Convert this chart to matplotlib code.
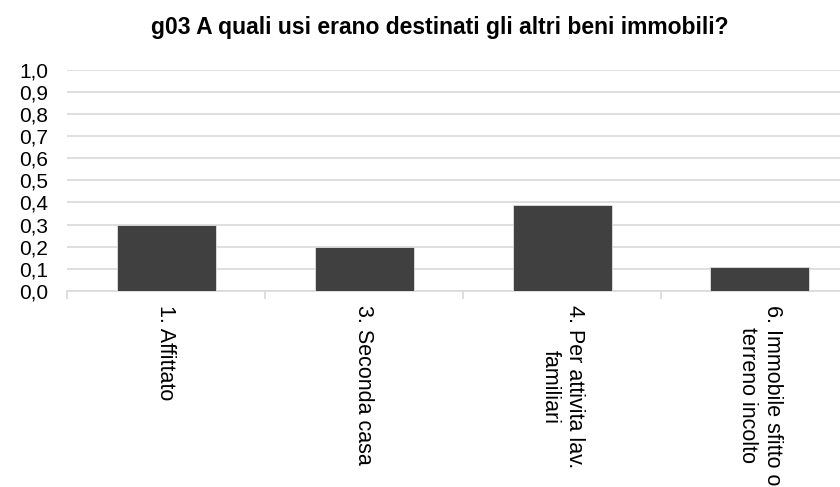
import matplotlib
matplotlib.use("Agg")
import matplotlib.pyplot as plt
import numpy as np

# ---------- DATI ----------
TITLE = "g03 A quali usi erano destinati gli altri beni immobili?"
CATEGORIES = [
    "1. Affittato",
    "3. Seconda casa",
    "4. Per attivita lav.\nfamiliari",
    "6. Immobile sfitto o\nterreno incolto",
]
VALUES = [0.30, 0.20, 0.39, 0.11]
Y_TICKS = [0.0, 0.1, 0.2, 0.3, 0.4, 0.5, 0.6, 0.7, 0.8, 0.9, 1.0]

BAR_COLOR = "#404040"
GRID_COLOR = "#d9d9d9"

plt.rcParams["font.family"] = ["Liberation Sans", "DejaVu Sans"]

W, H = 840, 487
fig = plt.figure(figsize=(W / 100, H / 100), dpi=100)

# area del grafico in pixel (l'asse esce oltre il bordo destro, come nell'originale)
left, right, top, bottom = 67, 859, 69.7, 291
ax = fig.add_axes([left / W, 1 - bottom / H, (right - left) / W, (bottom - top) / H])

x = np.arange(len(CATEGORIES)) + 0.5
ax.bar(x, VALUES, width=0.5, color=BAR_COLOR, edgecolor="#e0e0e0", linewidth=0.6, zorder=3)

ax.set_xlim(0, len(CATEGORIES))
ax.set_ylim(0, 1.0)

ax.set_yticks(Y_TICKS)
ax.set_yticklabels([f"{v:.1f}".replace(".", ",") for v in Y_TICKS], fontsize=15)
ax.tick_params(axis="y", length=0, pad=13.5)
ax.yaxis.grid(True, color=GRID_COLOR, linewidth=1.2, zorder=0)

# tacche ai confini delle categorie, etichette al centro
ax.set_xticks(np.arange(len(CATEGORIES) + 1))
ax.set_xticklabels([])
ax.tick_params(axis="x", which="major", length=6, color=GRID_COLOR, width=1.2)
ax.set_xticks(x, minor=True)
ax.set_xticklabels(CATEGORIES, minor=True, rotation=270, fontsize=15.5,
                   va="top", ha="center", multialignment="center")
ax.tick_params(axis="x", which="minor", length=0, pad=10)

for s in ["top", "right", "left"]:
    ax.spines[s].set_visible(False)
ax.spines["bottom"].set_color(GRID_COLOR)
ax.spines["bottom"].set_linewidth(1.2)
ax.set_axisbelow(True)

fig.text(440 / W, 1 - 34 / H, TITLE, ha="center", va="baseline", fontsize=16.5, fontweight="bold")

fig.savefig("out.png", dpi=100)
